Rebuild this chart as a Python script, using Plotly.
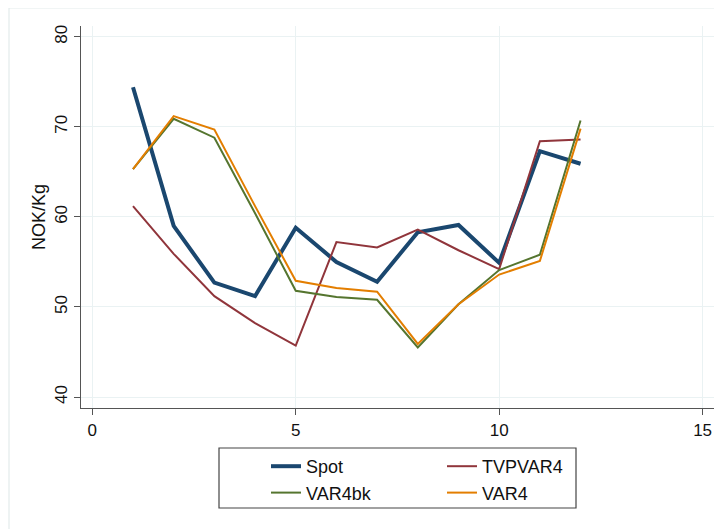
import plotly.graph_objects as go

months = [1, 2, 3, 4, 5, 6, 7, 8, 9, 10, 11, 12]
spot = [74.4, 59.0, 52.7, 51.2, 58.8, 55.0, 52.8, 58.3, 59.1, 54.9, 67.3, 65.9]
tvpvar4 = [61.2, 55.9, 51.2, 48.2, 45.7, 57.2, 56.6, 58.6, 56.3, 54.2, 68.4, 68.6]
var4bk = [65.3, 70.9, 68.8, 60.4, 51.8, 51.1, 50.8, 45.5, 50.3, 54.1, 55.8, 70.7]
var4 = [65.3, 71.2, 69.7, 61.2, 52.9, 52.1, 51.7, 45.9, 50.3, 53.6, 55.1, 69.8]

x_ticks = [0, 5, 10, 15]
y_ticks = [40, 50, 60, 70, 80]

FONT = "Liberation Sans, Arial, sans-serif"
# page body has an 8px margin, so the figure is sized to fit the window
W, H = 714, 521
L, R, T, B = 73, 8, 18, 121
PW, PH = W - L - R, H - T - B

def px_x(p):
    return (p - L) / PW

def px_y(p):
    return (H - B - p) / PH

fig = go.Figure()
fig.add_trace(go.Scatter(x=months, y=spot, mode="lines", name="Spot",
                         line=dict(color="#1a476f", width=4), legend="legend"))
fig.add_trace(go.Scatter(x=months, y=tvpvar4, mode="lines", name="TVPVAR4",
                         line=dict(color="#90353b", width=2), legend="legend2"))
fig.add_trace(go.Scatter(x=months, y=var4bk, mode="lines", name="VAR4bk",
                         line=dict(color="#55752f", width=2), legend="legend"))
fig.add_trace(go.Scatter(x=months, y=var4, mode="lines", name="VAR4",
                         line=dict(color="#e37e00", width=2), legend="legend2"))

axis_common = dict(
    showline=True, linecolor="#555555", linewidth=1.3,
    ticks="outside", ticklen=6, tickcolor="#555555", tickwidth=1.3,
    showgrid=True, gridcolor="#eaf2f3", gridwidth=1, zeroline=False,
    tickfont=dict(family=FONT, size=17, color="#111111"),
)

fig.update_layout(
    width=W, height=H,
    margin=dict(l=L, r=R, t=T, b=B, autoexpand=False),
    paper_bgcolor="white", plot_bgcolor="white",
    font=dict(family=FONT, color="#111111"),
    xaxis=dict(range=[-0.278, 15.28], tickvals=x_ticks, **axis_common),
    yaxis=dict(range=[38.78, 81.2], tickvals=y_ticks, tickangle=-90,
               title=dict(text="NOK/Kg", font=dict(family=FONT, size=18, color="#111111"),
                          standoff=1),
               **axis_common),
    legend=dict(x=px_x(258), y=px_y(440), xanchor="left", yanchor="top",
                bgcolor="rgba(0,0,0,0)", borderwidth=0,
                font=dict(family=FONT, size=18, color="#111111")),
    legend2=dict(x=px_x(434), y=px_y(440), xanchor="left", yanchor="top",
                 bgcolor="rgba(0,0,0,0)", borderwidth=0,
                 font=dict(family=FONT, size=18, color="#111111")),
    shapes=[
        dict(type="rect", xref="paper", yref="paper",
             x0=px_x(211), x1=px_x(568), y0=px_y(500), y1=px_y(440),
             line=dict(color="#444444", width=1.2), fillcolor="rgba(0,0,0,0)"),
        dict(type="rect", xref="paper", yref="paper",
             x0=px_x(1), x1=px_x(740), y0=px_y(540), y1=px_y(0),
             line=dict(color="#e3ecec", width=1.2), fillcolor="rgba(0,0,0,0)",
             layer="below"),
    ],
)

fig.write_html("out.html")
